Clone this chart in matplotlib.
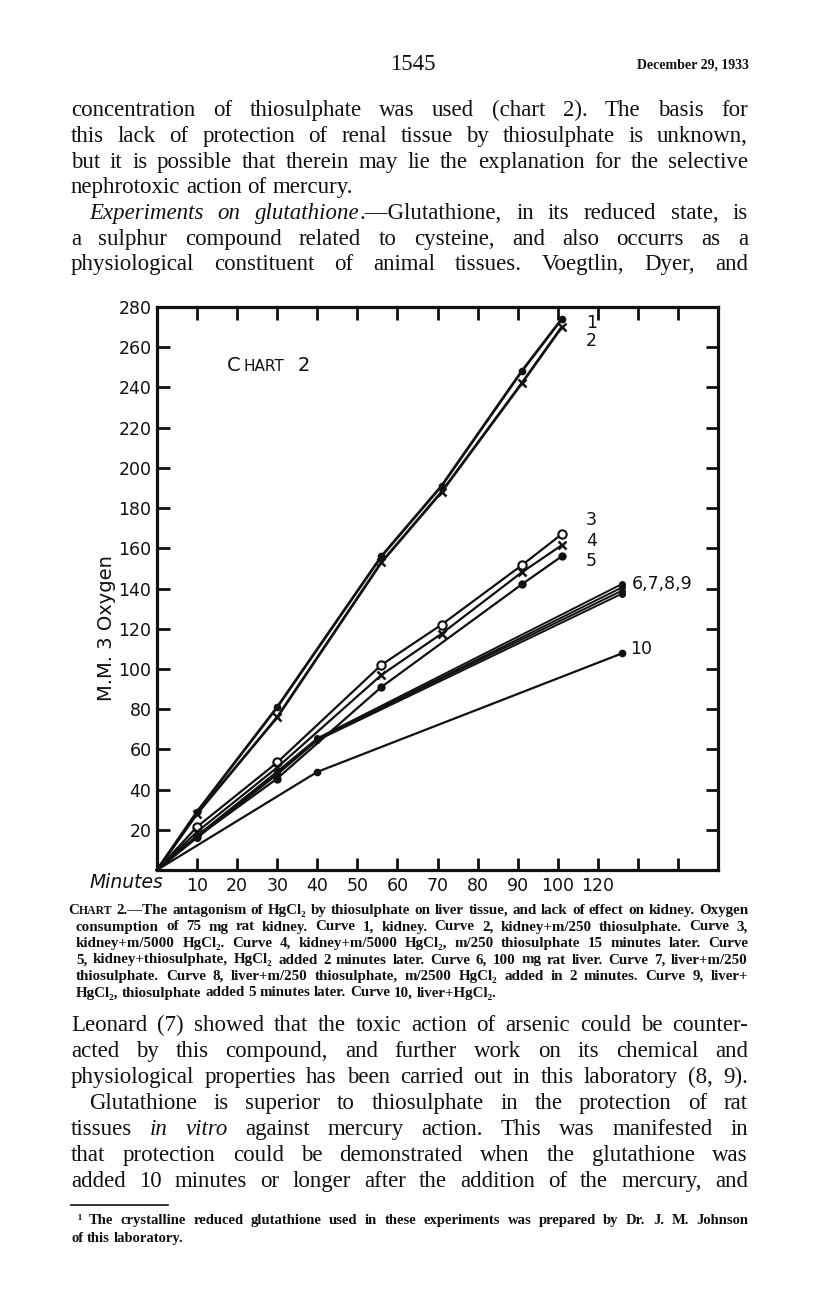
import re
import matplotlib
matplotlib.use('Agg')
import matplotlib.pyplot as plt

# page size in pixels (dpi 100)
W, H = 816, 1305

# --- chart data (minutes, M.M.3 oxygen) ---
t_kidney = [0, 10, 30, 56, 71, 91, 101]
curve1 = [0, 29, 81, 156, 191, 248, 274]
curve2 = [0, 28, 76, 153, 188, 242, 270]
curve3 = [0, 21.5, 53.5, 102, 122, 151.5, 167]
curve4 = [0, 19, 51, 97, 117.5, 148, 161.5]
t_curve5 = [0, 10, 30, 56, 91, 101]
curve5 = [0, 16.5, 45.5, 91, 142, 156]
t_liver = [0, 10, 30, 40, 116]
curve6 = [0, 17, 49, 65.5, 142.2]
curve7 = [0, 17, 48.5, 65, 140.5]
curve8 = [0, 16.5, 48, 65, 138.9]
curve9 = [0, 16, 47.5, 64.5, 137.4]
t_curve10 = [0, 40, 116]
curve10 = [0, 48.8, 107.7]

x_ticks = [10, 20, 30, 40, 50, 60, 70, 80, 90, 100, 110, 120, 130]
x_tick_labels = ['10', '20', '30', '40', '50', '60', '70', '80', '90', '100', '120', '', '']
y_ticks = [20, 40, 60, 80, 100, 120, 140, 160, 180, 200, 220, 240, 260, 280]

# --- page text ---
header_page = '1545'
header_date = 'December 29, 1933'
top_lines = [
    'concentration of thiosulphate was used (chart 2).  The basis for',
    'this lack of protection of renal tissue by thiosulphate is unknown,',
    'but it is possible that therein may lie the explanation for the selective',
    'nephrotoxic action of mercury.',
    '*Experiments on glutathione*.—Glutathione, in its reduced state, is',
    'a sulphur compound related to cysteine, and also occurrs as a',
    'physiological constituent of animal tissues.  Voegtlin, Dyer, and',
]
bottom_lines = [
    'Leonard (7) showed that the toxic action of arsenic could be counter-',
    'acted by this compound, and further work on its chemical and',
    'physiological properties has been carried out in this laboratory (8, 9).',
    'Glutathione is superior to thiosulphate in the protection of rat',
    'tissues *in vitro* against mercury action.  This was manifested in',
    'that protection could be demonstrated when the glutathione was',
    'added 10 minutes or longer after the addition of the mercury, and',
]
caption_lines = [
    'C~HART~ 2.—The antagonism of HgCl₂ by thiosulphate on liver tissue, and lack of effect on kidney.   Oxygen',
    'consumption of 75 mg rat kidney.   Curve 1, kidney.   Curve 2, kidney+m/250 thiosulphate.   Curve 3,',
    'kidney+m/5000 HgCl₂.   Curve 4, kidney+m/5000 HgCl₂, m/250 thiosulphate 15 minutes later.   Curve',
    '5, kidney+thiosulphate, HgCl₂ added 2 minutes later.   Curve 6, 100 mg rat liver.   Curve 7, liver+m/250',
    'thiosulphate.   Curve 8, liver+m/250 thiosulphate, m/2500 HgCl₂ added in 2 minutes.   Curve 9, liver+',
    'HgCl₂, thiosulphate added 5 minutes later.   Curve 10, liver+HgCl₂.',
]
foot_lines = [
    '¹ The crystalline reduced glutathione used in these experiments was prepared by Dr. J. M. Johnson',
    'of this laboratory.',
]

serif = ['Liberation Serif', 'DejaVu Serif']
sans = ['DejaVu Sans']
ink = '#111111'

fig = plt.figure(figsize=(W / 100, H / 100), dpi=100)
fig.patch.set_facecolor('white')
renderer = fig.canvas.get_renderer()


def fy(y):
    return 1 - y / H


def put_line(line, x0, x1, y, size, weight='normal', justify=True):
    # words placed one by one so the line can be justified
    italic, small = False, False
    toks = []
    for word in line.split():
        segs = []
        for piece in re.split(r'([*~])', word):
            if piece == '*':
                italic = not italic
            elif piece == '~':
                small = not small
            elif piece:
                segs.append((piece, italic, small))
        toks.append(segs)
    while True:
        rows, widths = [], []
        for segs in toks:
            row, w = [], 0
            for s, it, sm in segs:
                t = fig.text(0, fy(y), s, fontsize=size * (0.78 if sm else 1),
                             style='italic' if it else 'normal', weight=weight,
                             family=serif, va='baseline', ha='left', color=ink)
                ww = t.get_window_extent(renderer).width
                row.append((t, ww))
                w += ww
            rows.append(row)
            widths.append(w)
        space = size * 100 / 72 * 0.25
        if justify and len(toks) > 1:
            gap = (x1 - x0 - sum(widths)) / (len(toks) - 1)
        else:
            gap = space
        if gap >= space * 0.6:
            break
        # line too long: shrink a little and retry
        for row in rows:
            for t, _ in row:
                t.remove()
        size *= 0.98
    x = x0
    for row, w in zip(rows, widths):
        xx = x
        for t, ww in row:
            t.set_x(xx / W)
            xx += ww
        x += w + gap


# header
fig.text(413 / W, fy(70), header_page, fontsize=16.5, family=serif, ha='center', va='baseline', color=ink)
fig.text(749 / W, fy(69), header_date, fontsize=10, weight='bold', family=serif, ha='right', va='baseline', color=ink)

left, right = 71, 748
body_size = 16.5
top_base = [116, 142, 168, 193, 219, 245, 270]
for i, line in enumerate(top_lines):
    x0 = left + 18 if i == 4 else left
    put_line(line, x0, right, top_base[i], body_size, justify=(i != 3))

bot_base = [1031, 1057, 1083, 1109, 1135, 1161, 1187]
for i, line in enumerate(bottom_lines):
    x0 = left + 18 if i == 3 else left
    put_line(line, x0, right, bot_base[i], body_size)

cap_base = [914, 930.5, 947, 963.5, 980, 996.5]
for i, line in enumerate(caption_lines):
    x0 = 68 if i == 0 else 76
    put_line(line, x0, 748, cap_base[i], 10.8, weight='bold', justify=(i != 5))

# footnote
fig.add_artist(plt.Line2D([71 / W, 168 / W], [fy(1205), fy(1205)], color=ink, lw=1.2))
put_line(foot_lines[0], 77, 748, 1224, 10.5, weight='bold')
put_line(foot_lines[1], 71, 748, 1242, 10.5, weight='bold', justify=False)

# --- the chart ---
ax = fig.add_axes([157 / W, 1 - 870 / H, 561 / W, 563 / H])
ax.set_xlim(0, 140)
ax.set_ylim(0, 280)
for s in ax.spines.values():
    s.set_linewidth(2.3)
    s.set_color(ink)

ax.set_xticks(x_ticks)
ax.set_xticklabels(x_tick_labels, family=sans)
ax.set_yticks(y_ticks)
ax.set_yticklabels([str(v) for v in y_ticks], family=sans)
ax.tick_params(direction='in', length=9, width=2, top=True, right=True,
               labelsize=12.5, colors=ink)
ax.tick_params(axis='x', pad=5)
ax.tick_params(axis='y', pad=4)

k = dict(color=ink, markevery=slice(1, None), clip_on=False)
ax.plot(t_kidney, curve1, lw=2.0, marker='o', ms=4.5, **k)
ax.plot(t_kidney, curve2, lw=2.0, marker='x', ms=6, mew=1.8, **k)
ax.plot(t_kidney, curve3, lw=1.6, marker='o', ms=6, mfc='white', mew=1.5, **k)
ax.plot(t_kidney, curve4, lw=1.6, marker='x', ms=6, mew=1.8, **k)
ax.plot(t_curve5, curve5, lw=1.6, marker='o', ms=5, **k)
for c in (curve6, curve7, curve8, curve9):
    ax.plot(t_liver, c, lw=1.4, marker='o', ms=4, **k)
ax.plot(t_curve10, curve10, lw=1.6, marker='o', ms=4.5, **k)

# curve numbers
lab = dict(fontsize=12.5, family=sans, color=ink, va='center', ha='left')
ax.text(107, 272, '1', **lab)
ax.text(107, 263, '2', **lab)
ax.text(107, 174, '3', **lab)
ax.text(107, 163.5, '4', **lab)
ax.text(107, 153.5, '5', **lab)
ax.text(118.5, 142, '6,7,8,9', **lab)
ax.text(118, 110, '10', **lab)

# chart title in small capitals
ttl = dict(family=sans, color=ink, va='baseline', ha='left')
ax.text(17.5, 248, 'C', fontsize=14, **ttl)
ax.text(21.5, 248, 'HART', fontsize=11, **ttl)
ax.text(35, 248, '2', fontsize=14, **ttl)

fig.text(106 / W, fy(628), 'M.M. 3 Oxygen', rotation=90, fontsize=14, family=sans,
         ha='center', va='center', color=ink)
fig.text(90 / W, fy(883), 'Minutes', fontsize=13.5, style='italic', family=sans,
         ha='left', va='center', color=ink)

fig.savefig('out.png', dpi=100, facecolor='white')
